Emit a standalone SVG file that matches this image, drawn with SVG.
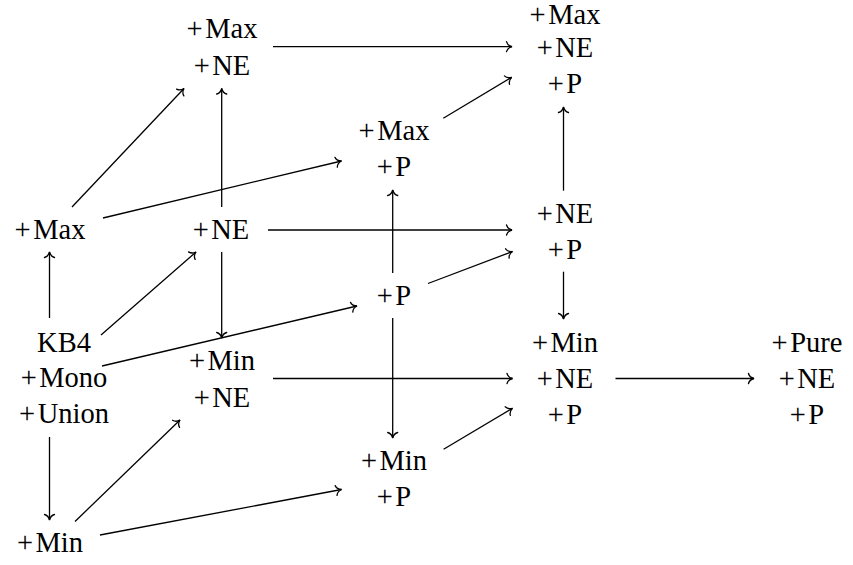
<svg xmlns="http://www.w3.org/2000/svg" width="853" height="565" viewBox="0 0 853 565">
<style>
text { font-family: "Liberation Serif", "Times New Roman", serif; font-size: 28.5px; fill: #000; text-anchor: middle; }
.p { letter-spacing: 2.5px; }
.c line { stroke: #000; stroke-width: 1.3; fill: none; marker-end: url(#to); }
</style>
<defs>
<marker id="to" markerUnits="userSpaceOnUse" viewBox="-8 -7 10 14" markerWidth="10" markerHeight="14" refX="0" refY="0" orient="auto">
<path d="M -5.5,-5 C -4.8,-2.2 -2,-0.5 0,0 C -2,0.5 -4.8,2.2 -5.5,5" fill="none" stroke="#000" stroke-width="1.3" stroke-linecap="round"/>
</marker>
</defs>
<rect width="853" height="565" fill="#fff"/>
<g class="c" id="connectors">
<line x1="49.5" y1="318" x2="49.5" y2="252"/>
<line x1="49.5" y1="437" x2="49.5" y2="520"/>
<line x1="101" y1="335" x2="196" y2="252"/>
<line x1="102" y1="366" x2="357" y2="306"/>
<line x1="72" y1="207" x2="184" y2="88.5"/>
<line x1="103" y1="218" x2="341.5" y2="161"/>
<line x1="75" y1="521.5" x2="180" y2="420"/>
<line x1="100" y1="535" x2="341.5" y2="489.5"/>
<line x1="273" y1="46.7" x2="512" y2="46.7"/>
<line x1="221.7" y1="207" x2="221.7" y2="88.5"/>
<line x1="221.7" y1="252" x2="221.7" y2="338"/>
<line x1="268" y1="230" x2="512" y2="230"/>
<line x1="392.7" y1="273" x2="392.7" y2="190"/>
<line x1="392.7" y1="318" x2="392.7" y2="438"/>
<line x1="428" y1="283.5" x2="512.5" y2="251.5"/>
<line x1="443.3" y1="118.3" x2="511.7" y2="77.3"/>
<line x1="563.5" y1="190.7" x2="563.5" y2="107"/>
<line x1="563.5" y1="271.7" x2="563.5" y2="319"/>
<line x1="273" y1="378.5" x2="512.5" y2="378.5"/>
<line x1="443.6" y1="449.3" x2="512.5" y2="408.3"/>
<line x1="615.5" y1="378.5" x2="754" y2="378.5"/>
</g>
<g id="n_kb4"><text x="64" y="352">KB4</text><text x="64" y="387"><tspan class="p">+</tspan>Mono</text><text x="64" y="423"><tspan class="p">+</tspan>Union</text></g>
<g id="n_max"><text x="50" y="239"><tspan class="p">+</tspan>Max</text></g>
<g id="n_min"><text x="50" y="552"><tspan class="p">+</tspan>Min</text></g>
<g id="n_maxne"><text x="222" y="38"><tspan class="p">+</tspan>Max</text><text x="222" y="75"><tspan class="p">+</tspan>NE</text></g>
<g id="n_ne"><text x="221" y="239"><tspan class="p">+</tspan>NE</text></g>
<g id="n_minne"><text x="222" y="370"><tspan class="p">+</tspan>Min</text><text x="222" y="406.5"><tspan class="p">+</tspan>NE</text></g>
<g id="n_maxp"><text x="394" y="139.5"><tspan class="p">+</tspan>Max</text><text x="394" y="176"><tspan class="p">+</tspan>P</text></g>
<g id="n_p"><text x="394" y="305"><tspan class="p">+</tspan>P</text></g>
<g id="n_minp"><text x="394" y="470"><tspan class="p">+</tspan>Min</text><text x="394" y="506"><tspan class="p">+</tspan>P</text></g>
<g id="n_maxnep"><text x="565" y="24"><tspan class="p">+</tspan>Max</text><text x="565" y="57"><tspan class="p">+</tspan>NE</text><text x="565" y="93"><tspan class="p">+</tspan>P</text></g>
<g id="n_nep"><text x="565" y="223"><tspan class="p">+</tspan>NE</text><text x="565" y="259"><tspan class="p">+</tspan>P</text></g>
<g id="n_minnep"><text x="565" y="352"><tspan class="p">+</tspan>Min</text><text x="565" y="388"><tspan class="p">+</tspan>NE</text><text x="565" y="424"><tspan class="p">+</tspan>P</text></g>
<g id="n_pure"><text x="807" y="352"><tspan class="p">+</tspan>Pure</text><text x="807" y="388"><tspan class="p">+</tspan>NE</text><text x="807" y="424"><tspan class="p">+</tspan>P</text></g>
</svg>
